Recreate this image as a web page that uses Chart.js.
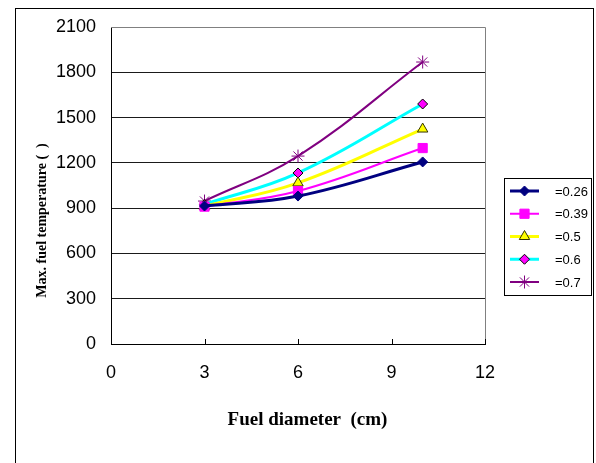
<!DOCTYPE html>
<html>
<head>
<meta charset="utf-8">
<script src="https://cdn.jsdelivr.net/npm/chart.js"></script>
<style>
  html, body { margin: 0; padding: 0; background: #fff; }
  canvas { display: block; }
</style>
</head>
<body>
<canvas id="chart" width="596" height="463"></canvas>
<script>
// fuel diameter (cm) and max fuel temperature per series
const diameters = [3, 6, 10];
const seriesLabels = ['=0.26', '=0.39', '=0.5', '=0.6', '=0.7'];
const temp026 = [914, 980, 1206];
const temp039 = [910, 1013, 1298];
const temp05 = [912, 1067, 1424];
const temp06 = [925, 1133, 1590];
const temp07 = [947, 1245, 1868];
const xTicks = [0, 3, 6, 9, 12];
const yTicks = [0, 300, 600, 900, 1200, 1500, 1800, 2100];

const xTitle = 'Fuel diameter  (cm)';
const yTitle = 'Max. fuel temperature (  )';

const sansFont = "'Liberation Sans', Arial, sans-serif";
const serifFont = "'Liberation Serif', 'Times New Roman', serif";

function toPoints(values) {
    return diameters.map((d, i) => ({ x: d, y: values[i] }));
}

// series styles
const styles = [
    { color: '#000080', width: 3, point: 'rectRot', radius: 5, fill: '#000080', border: '#000080' },
    { color: '#FF00FF', width: 2, point: 'rect', radius: 6.5, fill: '#FF00FF', border: '#FF00FF' },
    { color: '#FFFF00', width: 3, point: 'triangle', radius: 6, fill: '#FFFF00', border: '#333300' },
    { color: '#00FFFF', width: 3, point: 'rectRot', radius: 5, fill: '#FF00FF', border: '#000000' },
    { color: '#800080', width: 2, point: 'star', radius: 6.5, fill: '#800080', border: '#800080' }
];
const values = [temp026, temp039, temp05, temp06, temp07];

const datasets = values.map((v, i) => ({
    label: seriesLabels[i],
    data: toPoints(v),
    borderColor: styles[i].color,
    borderWidth: styles[i].width,
    pointStyle: styles[i].point,
    pointRadius: styles[i].radius,
    pointBackgroundColor: styles[i].fill,
    pointBorderColor: styles[i].border,
    pointBorderWidth: 1,
    tension: 0.4,
    fill: false
}));

/**
 * Frame, plot border, inner x tick marks and the boxed legend
 */
const decorPlugin = {
    id: 'decor',
    afterDraw(chart) {
        const ctx = chart.ctx;
        const area = chart.chartArea;
        const xScale = chart.scales.x;
        ctx.save();

        // outer frame
        ctx.strokeStyle = '#000';
        ctx.lineWidth = 1;
        ctx.strokeRect(15.5, 8.5, 578, 470);

        // gray plot border top/right
        ctx.strokeStyle = '#808080';
        ctx.beginPath();
        ctx.moveTo(area.left, Math.round(area.top) + 0.5);
        ctx.lineTo(Math.round(area.right) + 0.5, Math.round(area.top) + 0.5);
        ctx.lineTo(Math.round(area.right) + 0.5, area.bottom);
        ctx.stroke();

        // small tick marks inside the x axis
        ctx.strokeStyle = '#000';
        ctx.beginPath();
        xScale.ticks.forEach(t => {
            const px = Math.round(xScale.getPixelForValue(t.value)) + 0.5;
            ctx.moveTo(px, area.bottom);
            ctx.lineTo(px, area.bottom - 5);
        });
        ctx.stroke();

        // legend box
        const lx = 504, ly = 178, lw = 87, lh = 117;
        ctx.strokeStyle = '#000';
        ctx.strokeRect(lx + 0.5, ly + 0.5, lw, lh);
        ctx.font = '13px ' + sansFont;
        ctx.textBaseline = 'middle';
        ctx.textAlign = 'left';
        chart.data.datasets.forEach((ds, i) => {
            const y = 191 + i * 22.75;
            ctx.strokeStyle = ds.borderColor;
            ctx.lineWidth = ds.borderWidth;
            ctx.beginPath();
            ctx.moveTo(510, y);
            ctx.lineTo(539, y);
            ctx.stroke();
            ctx.fillStyle = ds.pointBackgroundColor;
            ctx.strokeStyle = ds.pointBorderColor;
            ctx.lineWidth = 1;
            Chart.helpers.drawPoint(ctx, { pointStyle: ds.pointStyle, radius: ds.pointRadius, borderWidth: 1 }, 524.5, y);
            ctx.fillStyle = '#000';
            ctx.fillText(ds.label, 555, y + 1);
        });
        ctx.restore();
    }
};

const chart = new Chart(document.getElementById('chart'), {
    type: 'line',
    data: { datasets: datasets },
    options: {
        responsive: false,
        animation: false,
        layout: { padding: { left: 0, top: 27, right: 111, bottom: 0 } },
        plugins: {
            legend: { display: false },
            tooltip: { enabled: false }
        },
        scales: {
            x: {
                type: 'linear',
                min: 0,
                max: 12,
                afterBuildTicks: scale => { scale.ticks = xTicks.map(v => ({ value: v })); },
                afterFit: scale => { scale.height = 119; },
                grid: { display: false, drawTicks: false },
                border: { color: '#000', width: 1 },
                ticks: {
                    color: '#000',
                    padding: 18,
                    font: { family: sansFont, size: 18 },
                    callback: v => String(v)
                },
                title: {
                    display: true,
                    text: '\u2003' + xTitle,
                    color: '#000',
                    font: { family: serifFont, size: 19, weight: 'bold' },
                    padding: { top: 0, bottom: 32 }
                }
            },
            y: {
                min: 0,
                max: 2100,
                afterBuildTicks: scale => { scale.ticks = yTicks.map(v => ({ value: v })); },
                afterFit: scale => { scale.width = 111; },
                grid: {
                    drawTicks: false,
                    color: ctx => (ctx.tick && ctx.tick.value === 2100) ? '#808080' : '#1a1a1a',
                    lineWidth: 1
                },
                border: { color: '#000', width: 1 },
                ticks: {
                    color: '#000',
                    padding: 15,
                    font: { family: sansFont, size: 18 },
                    callback: v => String(v)
                },
                title: {
                    display: true,
                    text: yTitle + '\u2003'.repeat(5),
                    color: '#000',
                    font: { family: serifFont, size: 14, weight: 'bold' },
                    padding: { top: 34, bottom: 0 }
                }
            }
        }
    },
    plugins: [decorPlugin]
});
</script>
</body>
</html>
